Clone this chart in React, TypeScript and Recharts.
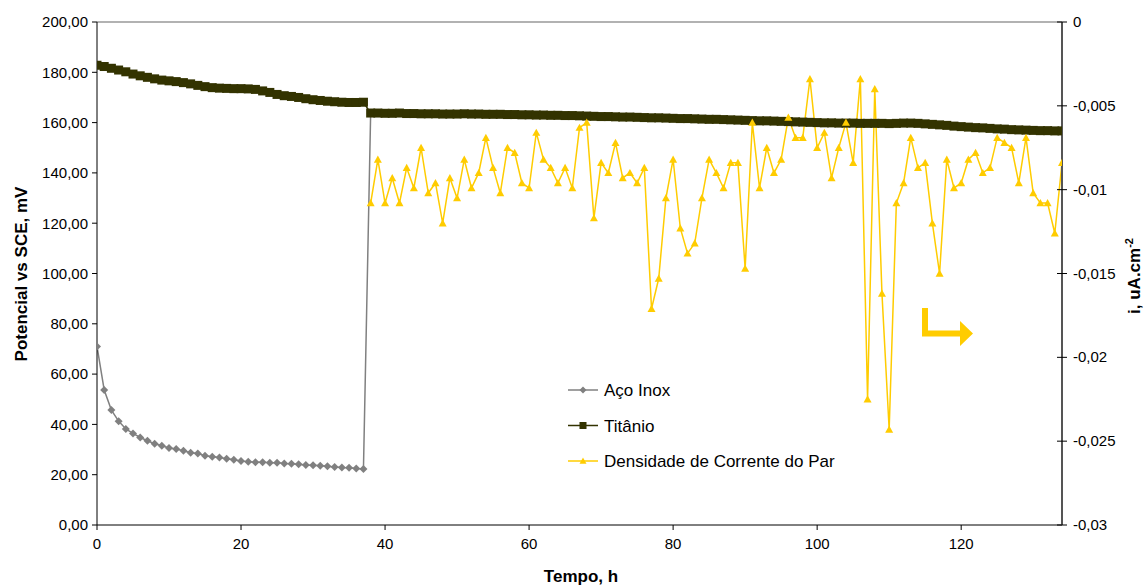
import React from "react";
import {
  Customized,
  Line,
  LineChart,
  ReferenceLine,
  XAxis,
  YAxis,
} from "recharts";

const FONT = '"Liberation Sans", Arial, sans-serif';

// hours 0..134
const hours: number[] = Array.from({ length: 135 }, (_, i) => i);

const acoInox: number[] = [
  71.0, 53.7, 45.7, 41.3, 38.2, 36.4, 34.8, 33.5, 32.3, 31.5, 30.6, 30.2, 29.5,
  28.7, 28.4, 27.5, 27.1, 26.8, 26.3, 25.9, 25.4, 25.1, 25.0, 25.0, 24.8, 24.8,
  24.5, 24.4, 24.2, 23.9, 23.8, 23.6, 23.4, 23.1, 22.9, 22.8, 22.5, 22.3, 163.8,
];

const titanio: number[] = [
  182.8, 182.3, 181.6, 180.9, 180.2, 179.3, 178.6, 178.0, 177.4, 176.9, 176.6,
  176.3, 175.9, 175.4, 174.8, 174.3, 173.9, 173.7, 173.6, 173.5, 173.5, 173.4,
  173.2, 172.6, 172.0, 171.2, 170.7, 170.4, 170.0, 169.5, 169.1, 168.8, 168.5,
  168.3, 168.1, 168.0, 168.0, 168.1, 163.8, 163.8, 163.7, 163.7, 163.8, 163.6,
  163.6, 163.5, 163.5, 163.5, 163.4, 163.4, 163.4, 163.5, 163.4, 163.4, 163.3,
  163.3, 163.3, 163.2, 163.2, 163.1, 163.1, 163.0, 163.0, 162.9, 162.9, 162.8,
  162.8, 162.7, 162.6, 162.5, 162.4, 162.4, 162.3, 162.2, 162.2, 162.1, 162.0,
  161.9, 161.9, 161.8, 161.7, 161.6, 161.6, 161.5, 161.4, 161.3, 161.3, 161.2,
  161.1, 161.0, 160.9, 160.8, 160.7, 160.7, 160.6, 160.5, 160.4, 160.3, 160.2,
  160.1, 160.0, 159.9, 159.9, 159.8, 159.8, 159.8, 159.7, 159.7, 159.7, 159.7,
  159.6, 159.7, 159.8, 159.8, 159.7, 159.5, 159.3, 159.1, 158.9, 158.6, 158.4,
  158.2, 158.0, 157.9, 157.7, 157.5, 157.4, 157.2, 157.1, 157.0, 156.9, 156.8,
  156.8, 156.7, 156.7,
];

// current density, from hour 38 to 134
const densStart = 38;
const densidade: number[] = [
  -0.0108, -0.0082, -0.0108, -0.0093, -0.0108, -0.0087, -0.0099, -0.0075,
  -0.0102, -0.0096, -0.012, -0.0093, -0.0105, -0.0082, -0.0099, -0.009,
  -0.0069, -0.0087, -0.0102, -0.0075, -0.0078, -0.0096, -0.0099, -0.0066,
  -0.0082, -0.0087, -0.0096, -0.0087, -0.0099, -0.0063, -0.006, -0.0117,
  -0.0084, -0.009, -0.0072, -0.0093, -0.009, -0.0096, -0.0087, -0.0171,
  -0.0153, -0.0105, -0.0082, -0.0123, -0.0138, -0.0132, -0.0105, -0.0082,
  -0.009, -0.0099, -0.0084, -0.0084, -0.0147, -0.006, -0.0099, -0.0075,
  -0.009, -0.0082, -0.0057, -0.0069, -0.0069, -0.0034, -0.0075, -0.0066,
  -0.0093, -0.0075, -0.006, -0.0084, -0.0034, -0.0225, -0.004, -0.0162,
  -0.0243, -0.0108, -0.0096, -0.0069, -0.0087, -0.0084, -0.012, -0.015,
  -0.0082, -0.0099, -0.0096, -0.0082, -0.0078, -0.009, -0.0087, -0.0069,
  -0.0072, -0.0075, -0.0096, -0.0069, -0.0102, -0.0108, -0.0108, -0.0126,
  -0.0084,
];

const xTicks = [0, 20, 40, 60, 80, 100, 120];
const leftTicks = [0, 20, 40, 60, 80, 100, 120, 140, 160, 180, 200];
const rightTicks = [-0.03, -0.025, -0.02, -0.015, -0.01, -0.005, 0];

const chartData = hours.map((h, i) => ({
  h,
  aco: acoInox[i],
  ti: titanio[i],
  dens: i >= densStart ? densidade[i - densStart] : undefined,
}));

const Diamond = ({ cx, cy, r = 4, color }: any) =>
  cx == null || cy == null ? null : (
    <polygon
      points={`${cx},${cy - r} ${cx + r},${cy} ${cx},${cy + r} ${cx - r},${cy}`}
      fill={color}
    />
  );

const Square = ({ cx, cy, s = 4.5, color }: any) =>
  cx == null || cy == null ? null : (
    <rect x={cx - s} y={cy - s} width={s * 2} height={s * 2} fill={color} />
  );

const Triangle = ({ cx, cy, s = 4, color }: any) =>
  cx == null || cy == null ? null : (
    <polygon
      points={`${cx},${cy - s} ${cx + s},${cy + s * 0.8} ${cx - s},${cy + s * 0.8}`}
      fill={color}
    />
  );

const GRAY = "#808080";
const OLIVE = "#333300";
const YELLOW = "#FFCC00";

const legendItems = [
  { name: "Aço Inox", color: GRAY, Mark: Diamond },
  { name: "Titânio", color: OLIVE, Mark: Square },
  { name: "Densidade de Corrente do Par", color: YELLOW, Mark: Triangle },
];

const RightTick = ({ x, y, payload }: any) => {
  const ax = x - 11;
  return (
    <g>
      <line x1={ax - 5} x2={ax + 5} y1={y} y2={y} stroke="#000" strokeWidth={1} />
      <text
        x={x}
        y={y + 5}
        fontFamily={FONT}
        fontSize={15}
        fill="#000"
        textAnchor="start"
      >
        {String(payload.value).replace(".", ",")}
      </text>
    </g>
  );
};

const Decorations = () => (
  <g>
    <text
      transform="translate(27,274) rotate(-90)"
      textAnchor="middle"
      fontFamily={FONT}
      fontWeight="bold"
      fontSize={17}
      fill="#000"
    >
      Potencial vs SCE, mV
    </text>
    <text
      x={581}
      y={582}
      textAnchor="middle"
      fontFamily={FONT}
      fontWeight="bold"
      fontSize={17}
      fill="#000"
    >
      Tempo, h
    </text>
    <text
      transform="translate(1140,276) rotate(-90)"
      textAnchor="middle"
      fontFamily={FONT}
      fontWeight="bold"
      fontSize={17}
      fill="#000"
    >
      i, uA.cm
      <tspan dy={-7} fontSize={11}>
        -2
      </tspan>
    </text>
    <path
      d="M922,308 L928,308 L928,330.5 L960,330.5 L960,321 L973,333.5 L960,346 L960,336.5 L922,336.5 Z"
      fill={YELLOW}
    />
    {legendItems.map((it, i) => {
      const y = 390 + i * 35.5;
      return (
        <g key={it.name}>
          <line x1={568} x2={598} y1={y} y2={y} stroke={it.color} strokeWidth={1.5} />
          <it.Mark cx={583} cy={y} r={3.5} s={3.5} color={it.color} />
          <text x={604} y={y + 6} fontFamily={FONT} fontSize={17} fill="#000">
            {it.name}
          </text>
        </g>
      );
    })}
  </g>
);

export default function App() {
  return (
    <div style={{ position: "absolute", left: 0, top: 0, background: "#fff" }}>
      <LineChart
        width={1145}
        height={586}
        data={chartData}
        margin={{ top: 22, right: 0, left: 0, bottom: 0 }}
      >
        <XAxis
          dataKey="h"
          type="number"
          domain={[0, 134]}
          ticks={xTicks}
          height={61}
          stroke="#000"
          tickSize={5}
          tickMargin={8}
          tick={{ fontFamily: FONT, fontSize: 15, fill: "#000" }}
          allowDataOverflow
        />
        <YAxis
          yAxisId="left"
          width={97}
          domain={[0, 200]}
          ticks={leftTicks}
          stroke="#000"
          tickSize={5}
          tickMargin={4}
          tickFormatter={(v: number) => v.toFixed(2).replace(".", ",")}
          tick={{ fontFamily: FONT, fontSize: 15, fill: "#000" }}
        />
        <YAxis
          yAxisId="right"
          orientation="right"
          width={83}
          domain={[-0.03, 0]}
          ticks={rightTicks}
          stroke="#555"
          strokeWidth={2}
          tickLine={false}
          tickSize={5}
          tickMargin={6}
          tick={<RightTick />}
        />
        <ReferenceLine yAxisId="left" y={200} stroke="#999" strokeWidth={1.5} />
        <Line
          yAxisId="left"
          dataKey="aco"
          stroke={GRAY}
          strokeWidth={1.5}
          dot={(p: any) => <Diamond key={`a${p.index}`} cx={p.cx} cy={p.cy} r={4} color={GRAY} />}
          activeDot={false}
          isAnimationActive={false}
        />
        <Line
          yAxisId="left"
          dataKey="ti"
          stroke={OLIVE}
          strokeWidth={1.5}
          dot={(p: any) => <Square key={`t${p.index}`} cx={p.cx} cy={p.cy} s={4.5} color={OLIVE} />}
          activeDot={false}
          isAnimationActive={false}
        />
        <Line
          yAxisId="right"
          dataKey="dens"
          stroke={YELLOW}
          strokeWidth={1.5}
          dot={(p: any) => <Triangle key={`d${p.index}`} cx={p.cx} cy={p.cy} s={4} color={YELLOW} />}
          activeDot={false}
          isAnimationActive={false}
        />
        <Customized component={Decorations} />
      </LineChart>
    </div>
  );
}
